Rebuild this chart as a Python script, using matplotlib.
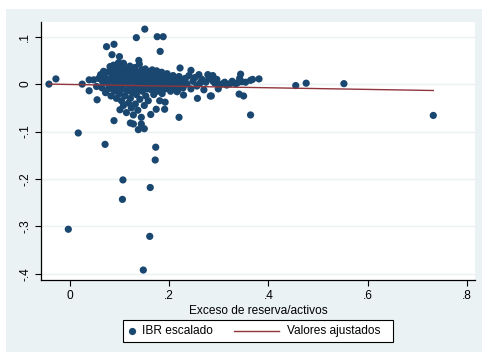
import matplotlib
matplotlib.use("Agg")
import matplotlib.pyplot as plt
from matplotlib.patches import Rectangle
from matplotlib.lines import Line2D
import numpy as np

# ---- data ----
x_out = [-0.042, -0.028, 0.025, 0.039, 0.039, 0.055, 0.017, 0.071, -0.003, 0.107,
         0.106, 0.162, 0.161, 0.148, 0.172, 0.173, 0.151, 0.134, 0.176, 0.188,
         0.182, 0.074, 0.089, 0.085, 0.100, 0.139, 0.048, 0.054, 0.101, 0.089,
         0.122, 0.128, 0.138, 0.068, 0.081, 0.108, 0.150, 0.144, 0.163, 0.174,
         0.191, 0.181, 0.192, 0.220, 0.244, 0.260, 0.278, 0.288, 0.283, 0.257,
         0.222, 0.232, 0.216, 0.229]
y_out = [0.000, 0.011, 0.000, 0.009, -0.014, -0.033, -0.103, -0.127, -0.306, -0.202,
         -0.243, -0.218, -0.321, -0.392, -0.160, -0.133, 0.116, 0.098, 0.100, 0.100,
         0.069, 0.079, 0.084, 0.062, 0.058, 0.050, 0.009, -0.005, -0.054, -0.077,
         -0.082, -0.084, -0.096, 0.027, 0.037, 0.044, -0.094, -0.084, -0.064, -0.053,
         -0.053, -0.035, -0.038, -0.070, 0.029, 0.020, 0.020, 0.007, -0.025, -0.030,
         0.034, 0.009, -0.016, -0.023]

x_right = [0.344, 0.455, 0.476, 0.552, 0.732, 0.381, 0.364, 0.368, 0.346, 0.341,
           0.350, 0.364, 0.285, 0.289, 0.299, 0.308, 0.323, 0.334, 0.303, 0.288]
y_right = [0.021, -0.003, 0.002, 0.001, -0.066, 0.011, 0.008, 0.010, 0.005, -0.021,
           -0.025, -0.065, -0.025, 0.006, -0.010, 0.001, 0.001, 0.001, -0.001, 0.018]

x_a = [0.058, 0.062, 0.065, 0.066, 0.070, 0.072, 0.074, 0.076, 0.078, 0.080, 0.082, 0.083, 0.085,
       0.086, 0.088, 0.089, 0.090, 0.092, 0.093, 0.094, 0.095, 0.096, 0.097, 0.098, 0.099, 0.100]
y_a = [0.012, 0.020, -0.008, 0.005, 0.015, -0.018, 0.025, 0.002, -0.010, 0.010, 0.030, -0.025, 0.018,
       -0.003, 0.040, 0.008, -0.015, 0.025, 0.000, -0.030, 0.035, 0.012, -0.008, 0.045, 0.020, -0.020]

x_b = [0.102, 0.103, 0.104, 0.105, 0.106, 0.107, 0.108, 0.109, 0.110, 0.111, 0.112, 0.113, 0.114,
       0.115, 0.116, 0.117, 0.118, 0.119, 0.120, 0.121, 0.122, 0.123, 0.124, 0.125, 0.126, 0.127,
       0.128, 0.129, 0.130, 0.131, 0.132, 0.133, 0.134, 0.135, 0.136, 0.137, 0.138, 0.139, 0.140,
       0.141, 0.142, 0.143, 0.144, 0.145, 0.146, 0.147, 0.148, 0.149, 0.150, 0.151, 0.152, 0.153,
       0.154, 0.155, 0.156, 0.157, 0.158, 0.159]
y_b = [0.005, 0.030, -0.035, 0.015, -0.010, 0.040, -0.045, 0.022, 0.000, -0.025, 0.033, 0.010, -0.060,
       -0.015, 0.025, 0.003, -0.040, 0.018, -0.005, 0.038, -0.030, 0.012, -0.050, 0.028, -0.018, 0.006,
       -0.065, 0.020, -0.008, 0.035, -0.042, 0.014, -0.022, 0.002, 0.026, -0.055, 0.010, -0.012, 0.042,
       -0.032, 0.018, 0.000, -0.070, 0.030, -0.015, 0.008, 0.022, -0.005, -0.045, 0.015, 0.032, -0.025,
       0.004, 0.020, -0.010, 0.012, -0.035, 0.026]

x_c = [0.161, 0.163, 0.164, 0.166, 0.167, 0.169, 0.170, 0.172, 0.173, 0.175, 0.176, 0.178, 0.180,
       0.181, 0.183, 0.185, 0.186, 0.188, 0.190, 0.192, 0.194, 0.196, 0.198, 0.200, 0.203, 0.205,
       0.208, 0.210, 0.213, 0.216, 0.218, 0.220]
y_c = [0.000, 0.018, -0.012, 0.030, 0.006, -0.022, 0.022, -0.004, 0.012, 0.028, -0.015, 0.004, 0.020,
       -0.008, 0.010, 0.025, -0.020, 0.002, 0.015, -0.010, 0.006, 0.022, -0.004, 0.012, -0.015, 0.003,
       0.018, -0.006, 0.010, 0.000, -0.012, 0.016]

x_d = [0.224, 0.228, 0.232, 0.236, 0.240, 0.244, 0.248, 0.252, 0.256, 0.262, 0.266, 0.270, 0.274,
       0.280, 0.292, 0.296, 0.312, 0.316, 0.327, 0.338, 0.342, 0.354]
y_d = [0.004, -0.008, 0.012, 0.000, 0.018, -0.010, 0.006, 0.014, -0.004, 0.002, 0.010, -0.012, 0.004,
       0.012, 0.002, 0.010, 0.004, -0.002, 0.006, 0.003, 0.012, 0.004]

fit_intercept = -0.0007
fit_slope = -0.0174

x_ticks = [0, 0.2, 0.4, 0.6, 0.8]
x_tick_labels = ["0", ".2", ".4", ".6", ".8"]
y_ticks = [-0.4, -0.3, -0.2, -0.1, 0.0, 0.1]
y_tick_labels = ["-.4", "-.3", "-.2", "-.1", "0", ".1"]

x_label = "Exceso de reserva/activos"
legend_labels = ["IBR escalado", "Valores ajustados"]

# ---- styling ----
plt.rcParams['font.family'] = ['Liberation Sans', 'DejaVu Sans']
NAVY = "#1A476F"
MAROON = "#90353B"
BG = "#EAF2F3"
FS = 8.6

W, H = 482, 352
fig = plt.figure(figsize=(W / 100, H / 100), dpi=100, facecolor="white")
fig.patches.append(Rectangle((6 / W, 0), 1 - 6 / W, 1 - 9 / H, transform=fig.transFigure,
                             facecolor=BG, edgecolor="none", zorder=-10))

ax = fig.add_axes([41 / W, 1 - 280 / H, (475 - 41) / W, (280 - 22) / H])
ax.set_zorder(1)
ax.set_facecolor("white")

xs = np.concatenate([x_out, x_right, x_a, x_b, x_c, x_d])
ys = np.concatenate([y_out, y_right, y_a, y_b, y_c, y_d])

ax.scatter(xs, ys, s=27, color=NAVY, edgecolors="none", zorder=3)
fx = np.array([xs.min(), xs.max()])
ax.plot(fx, fit_intercept + fit_slope * fx, color=MAROON, lw=1.0, zorder=4)

ax.set_xlim(-0.058, 0.816)
ax.set_ylim(-0.413, 0.131)
ax.set_xticks(x_ticks)
ax.set_xticklabels(x_tick_labels)
ax.set_yticks(y_ticks)
ax.set_yticklabels(y_tick_labels, rotation=90, va="center")
for s in ["top", "right"]:
    ax.spines[s].set_visible(False)
for s in ["left", "bottom"]:
    ax.spines[s].set_color("black")
    ax.spines[s].set_linewidth(0.9)
ax.tick_params(axis="both", direction="out", length=4, width=0.8, labelsize=FS, colors="black", pad=3)
ax.yaxis.grid(True, color=BG, lw=1.0, zorder=0)
ax.set_axisbelow(True)
ax.set_xlabel(x_label, fontsize=FS, labelpad=2)

# ---- legend (drawn manually, figure pixel layout) ----
def fx_(p):
    return p / W
def fy_(p):
    return 1 - p / H

fig.patches.append(Rectangle((fx_(123), fy_(342)), (393 - 123) / W, (342 - 320) / H,
                             transform=fig.transFigure, facecolor="white", edgecolor="black",
                             lw=0.8, zorder=2))
fig.lines.append(Line2D([fx_(131.5)], [fy_(331)], marker="o", ls="none", color=NAVY,
                        markersize=5.2, markeredgewidth=0, transform=fig.transFigure, zorder=3))
fig.lines.append(Line2D([fx_(234), fx_(279)], [fy_(331), fy_(331)], color=MAROON, lw=1.0,
                        transform=fig.transFigure, zorder=3))
fig.text(fx_(142), fy_(331), legend_labels[0], fontsize=FS, va="center", ha="left", zorder=3)
fig.text(fx_(287), fy_(331), legend_labels[1], fontsize=FS, va="center", ha="left", zorder=3)

fig.savefig("out.png", dpi=100, facecolor=fig.get_facecolor())
